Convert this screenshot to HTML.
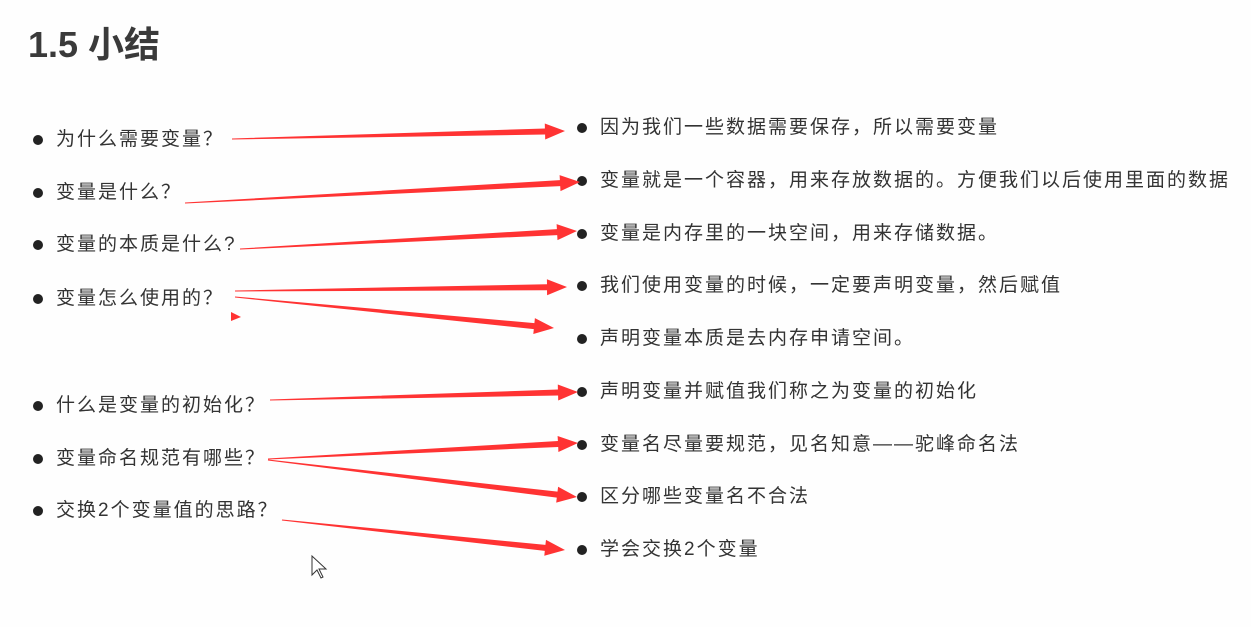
<!DOCTYPE html>
<html><head><meta charset="utf-8"><style>
body{margin:0;width:1251px;height:627px;background:#fefefe;position:relative;overflow:hidden;font-family:"Liberation Sans","Noto Sans CJK SC",sans-serif;color:#333}
.t{position:absolute;left:28px;top:16px;font-size:36px;font-weight:bold;color:#3a3a3a}
.i{position:absolute;font-size:19px;letter-spacing:2px;white-space:nowrap;line-height:22px}
.i:before{content:"";position:absolute;left:-23px;top:6px;width:10px;height:10px;border-radius:50%;background:#222}
svg{position:absolute;left:0;top:0}
</style></head><body>
<div class="t">1.5 小结</div>
<div class="i" style="left:56px;top:129px">为什么需要变量？</div>
<div class="i" style="left:56px;top:182px">变量是什么？</div>
<div class="i" style="left:56px;top:234px">变量的本质是什么?</div>
<div class="i" style="left:56px;top:288px">变量怎么使用的？</div>
<div class="i" style="left:56px;top:395px">什么是变量的初始化？</div>
<div class="i" style="left:56px;top:448px">变量命名规范有哪些？</div>
<div class="i" style="left:56px;top:500px">交换2个变量值的思路？</div>
<div class="i" style="left:600px;top:117px">因为我们一些数据需要保存，所以需要变量</div>
<div class="i" style="left:600px;top:170px">变量就是一个容器，用来存放数据的。方便我们以后使用里面的数据</div>
<div class="i" style="left:600px;top:223px">变量是内存里的一块空间，用来存储数据。</div>
<div class="i" style="left:600px;top:275px">我们使用变量的时候，一定要声明变量，然后赋值</div>
<div class="i" style="left:600px;top:328px">声明变量本质是去内存申请空间。</div>
<div class="i" style="left:600px;top:381px">声明变量并赋值我们称之为变量的初始化</div>
<div class="i" style="left:600px;top:434px">变量名尽量要规范，见名知意——驼峰命名法</div>
<div class="i" style="left:600px;top:486px">区分哪些变量名不合法</div>
<div class="i" style="left:600px;top:539px">学会交换2个变量</div>
<svg width="1251" height="627" id="s"><polygon points="231,312 241,317 231,321" fill="#f33"/>
<path d="M312,556 L312,575 L317,570 L321,578 L323,577 L319,569 L326,569 Z" fill="#fff" stroke="#333" stroke-width="1"/></svg>
<script>
var A=[[232,139,565,131],[185,203,580,182],[240,249,577,231],[235,291,567,287],[235,297,554,328],[270,400,578,392],[268,459,578,443],[268,460,577,497],[282,520,565,550]];
var s=document.getElementById('s'),h='';
A.forEach(function(a){var dx=a[2]-a[0],dy=a[3]-a[1],L=Math.hypot(dx,dy),ux=dx/L,uy=dy/L,nx=-uy,ny=ux,hl=20,hw=8,sw=3;
var bx=a[2]-ux*hl,by=a[3]-uy*hl;
var p=[[a[0]+nx*0.5,a[1]+ny*0.5],[bx+nx*sw,by+ny*sw],[bx+nx*hw,by+ny*hw],[a[2],a[3]],[bx-nx*hw,by-ny*hw],[bx-nx*sw,by-ny*sw],[a[0]-nx*0.5,a[1]-ny*0.5]];
h+='<polygon fill="#f33" points="'+p.map(function(q){return q[0].toFixed(1)+','+q[1].toFixed(1)}).join(' ')+'"/>';});
s.insertAdjacentHTML('beforeend',h);
</script>
</body></html>
